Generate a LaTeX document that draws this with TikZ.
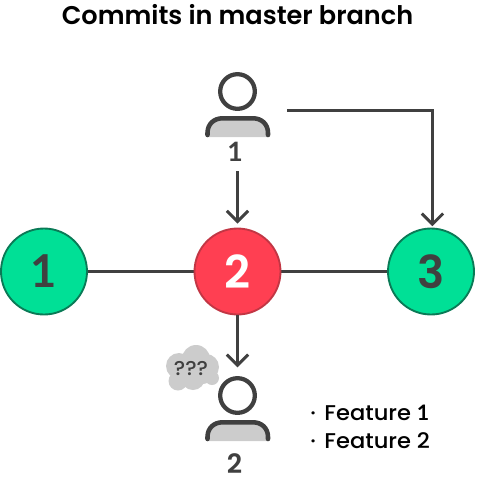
\documentclass[tikz,border=0pt]{standalone}
\usepackage{fontspec}
\setmainfont{Poppins}[BoldFont={Poppins SemiBold}]
\newfontfamily\featurefont{Poppins Medium}[FakeStretch=1.06]
\newfontfamily\onefont{Lato}[BoldFont={Lato Bold}]
\usetikzlibrary{arrows.meta}
\definecolor{ink}{HTML}{404040}
\definecolor{greenfill}{HTML}{00E096}
\definecolor{greenedge}{HTML}{0A7A56}
\definecolor{redfill}{HTML}{FF3F52}
\definecolor{rededge}{HTML}{C23644}
\definecolor{iconfill}{HTML}{CCCCCC}
\newcommand{\bodyline}{(207.5,135) -- (207.5,133) .. controls (207.5,124) and (214,118.3) .. (222.5,118.3) -- (253,118.3) .. controls (261.5,118.3) and (268,124) .. (268,133) -- (268,135)}
\tikzset{
  x=0.75pt,y=-0.75pt,
  commit/.style={circle,draw,line width=1.4pt,minimum size=64.5pt,inner sep=0pt,font=\fontsize{34}{34}\selectfont\bfseries},
  greencommit/.style={commit,fill=greenfill,draw=greenedge,text=ink},
  redcommit/.style={commit,fill=redfill,draw=rededge,text=white},
  link/.style={draw=ink,line width=2.2pt},
  flow/.style={link,-{Straight Barb[length=8pt,width=16pt,line width=2.2pt]}},
  head/.style={circle,draw=ink,line width=3.2pt,minimum size=26pt,inner sep=0pt},
  body/.style={draw=ink,line width=3.4pt,line cap=round},
  numlabel/.style={font=\fontsize{20}{20}\selectfont\bfseries,text=ink,inner sep=0pt},
  feature/.style={font=\fontsize{16}{16}\selectfont\featurefont,text=black,inner sep=0pt,anchor=west},
  puff/.style={fill=iconfill,draw=none},
}
\begin{document}
\begin{tikzpicture}
\useasboundingbox (0,0) rectangle (476,482);
\node[font=\fontsize{19.2}{20}\selectfont\bfseries,text=black,inner sep=0pt] (title) at (237.5,15) {Commits in master branch};

% commits
\draw[link] (44,271.5) coordinate (a) -- (237.5,271.5) coordinate (b) -- (431,271.5) coordinate (c);
\node[greencommit] (c1) at (a) {\onefont\bfseries 1};
\node[redcommit] (c2) at (b) {2};
\node[greencommit] (c3) at (c) {3};

% person 1
\node[head] (h1) at (237.5,91.5) {};
\fill[iconfill] \bodyline -- (268,137) -- (207.5,137) -- cycle;
\draw[body] \bodyline;
\node[numlabel] (n1) at (235,152) {\onefont\bfseries 1};

% person 2
\node[head] (h2) at (237.5,395.5) {};
\begin{scope}[shift={(0,304)}]
\fill[iconfill] \bodyline -- (268,137) -- (207.5,137) -- cycle;
\draw[body] \bodyline;
\end{scope}
\node[numlabel] (n2) at (234.5,464) {2};

% connectors
\coordinate (from1) at (237.5,171);
\coordinate (side1) at (287,110.5);
\coordinate (corner) at ([xshift=1.1pt]c |- side1);
\coordinate (into3) at (corner |- c3.north);
\draw[flow] (from1) -- ([yshift=3pt]c2.north);
\draw[flow] (c2.south) -- ([yshift=6.5pt]h2.north);
\draw[flow] (side1) -- (corner) -- ([yshift=1pt]into3);

% thought cloud
\fill[puff] (179,366) circle[radius=13];
\fill[puff] (196,359) circle[radius=14];
\fill[puff] (206,367) circle[radius=13];
\fill[puff] (178,381) circle[radius=9.5];
\fill[puff] (193,378) circle[radius=12];
\fill[puff] (212,378) circle[radius=7];
\fill[puff] (203,376) circle[radius=8];
\node[font=\fontsize{15}{15}\selectfont\featurefont,text=ink,inner sep=0pt] (q) at (191,369) {???};

% features
\node[feature] (f1) at (310,413) {·\kern6.5pt Feature {\onefont\bfseries 1}};
\node[feature] (f2) at (310,441) {·\kern6.5pt Feature 2};
\end{tikzpicture}
\end{document}
